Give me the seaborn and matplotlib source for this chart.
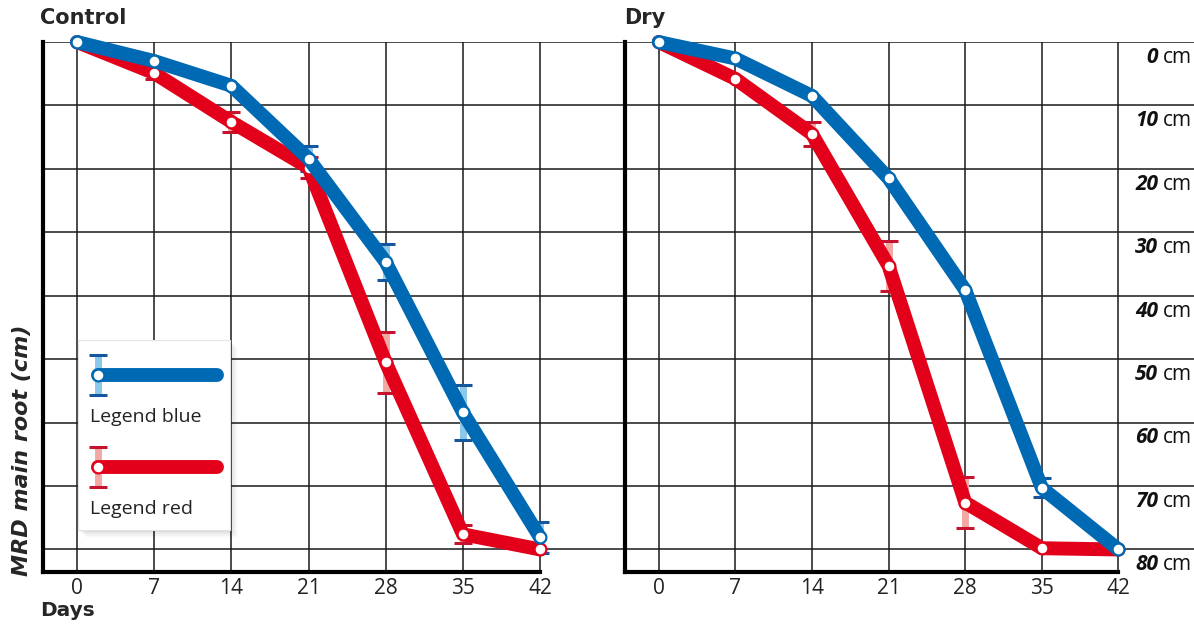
import numpy as np
import seaborn as sns
import matplotlib.pyplot as plt
import matplotlib.transforms as mtransforms
from matplotlib.patches import Rectangle

# Days after sowing and maximum rooting depth (cm)
days = [0, 7, 14, 21, 28, 35, 42]

control_blue = [0, 3.0, 6.9, 18.4, 34.7, 58.4, 78.1]
control_blue_err = [0, 0, 0, 2.0, 2.8, 4.3, 2.4]
control_red = [0, 4.9, 12.6, 19.8, 50.5, 77.6, 80.0]
control_red_err = [0, 1.0, 1.6, 1.7, 4.8, 1.4, 0]

dry_blue = [0, 2.6, 8.5, 21.5, 39.1, 70.3, 80.0]
dry_blue_err = [0, 0, 0, 0, 0, 1.5, 0]
dry_red = [0, 5.8, 14.5, 35.3, 72.6, 79.8, 80.0]
dry_red_err = [0, 0, 1.9, 3.9, 4.0, 0, 0]

depth_ticks = [0, 10, 20, 30, 40, 50, 60, 70, 80]

BLUE, BLUE_LIGHT, BLUE_DARK = "#0069b4", "#8cc8ea", "#14579e"
RED, RED_LIGHT, RED_DARK = "#e2001a", "#f2a9a4", "#c4122f"

sns.set_style("white")
plt.rcParams["font.family"] = ["Open Sans", "DejaVu Sans"]

fig = plt.figure(figsize=(11.94, 6.25), dpi=100)
W, H = 1194, 625
ax1 = fig.add_axes([43 / W, (H - 572) / H, (625 - 43) / W, 530 / H])
ax2 = fig.add_axes([625 / W, (H - 572) / H, (W - 625) / W, 530 / H])


def draw_panel(ax, xmax, series):
    ax.set_xlim(-3.08, xmax)
    ax.set_ylim(83.55, 0)
    ax.set_xticks(days)
    ax.set_yticks(depth_ticks)
    ax.set_yticklabels([])
    ax.grid(True, color="#1a1a1a", lw=1.1)
    ax.set_axisbelow(True)
    ax.tick_params(axis="both", length=0)
    ax.tick_params(axis="x", labelsize=15, pad=4, labelcolor="#222222")
    for side in ["top", "right"]:
        ax.spines[side].set_visible(False)
    for side in ["left", "bottom"]:
        ax.spines[side].set_color("black")
        ax.spines[side].set_linewidth(3)
        ax.spines[side].set_zorder(5)
    ax.spines["bottom"].set_bounds(-3.08, 42)

    for vals, errs, col, light, dark in series:
        vals = np.array(vals)
        errs = np.array(errs)
        x = np.array(days)
        m = errs > 0
        eb = ax.errorbar(x[m], vals[m], yerr=errs[m], fmt="none", ecolor=light,
                         elinewidth=5, capsize=6.5, capthick=2.2, zorder=3,
                         clip_on=False)
        for cap in eb[1]:
            cap.set_markeredgecolor(dark)
        sns.lineplot(x=days, y=vals, ax=ax, color=col, lw=10, marker="o",
                     markersize=8.5, markerfacecolor="white",
                     markeredgecolor=col, markeredgewidth=1.6,
                     solid_joinstyle="round", clip_on=False, zorder=4)
    ax.set_xlabel("")
    ax.set_ylabel("")


draw_panel(ax1, 49.7, [(control_red, control_red_err, RED, RED_LIGHT, RED_DARK),
                       (control_blue, control_blue_err, BLUE, BLUE_LIGHT, BLUE_DARK)])
draw_panel(ax2, 48.9, [(dry_red, dry_red_err, RED, RED_LIGHT, RED_DARK),
                       (dry_blue, dry_blue_err, BLUE, BLUE_LIGHT, BLUE_DARK)])

# Depth labels on the far right, e.g. "**0** cm"
trans = mtransforms.blended_transform_factory(fig.transFigure, ax2.transData)
for v in depth_ticks:
    t = ax2.annotate("cm", xy=(1192 / W, v), xycoords=trans, xytext=(0, -15),
                     textcoords="offset points", ha="right", va="baseline",
                     fontsize=15, color="#111111", annotation_clip=False)
    ax2.annotate(str(v), xy=(0, 0), xycoords=t, xytext=(-3.5, 0),
                 textcoords="offset points", ha="right", va="bottom",
                 fontsize=15, fontweight="bold", style="italic",
                 color="#111111", annotation_clip=False)

# Titles and axis labels
fig.text(40 / W, 1 - 18 / H, "Control", fontsize=15, fontweight="bold",
         family="DejaVu Sans", va="center", ha="left")
fig.text(624 / W, 1 - 18 / H, "Dry", fontsize=15, fontweight="bold",
         family="DejaVu Sans", va="center", ha="left")
fig.text(40 / W, 1 - 610 / H, "Days", fontsize=14.5, fontweight="bold",
         family="DejaVu Sans", va="center", ha="left")
fig.text(22 / W, 1 - 450 / H, "MRD main root (cm)", fontsize=16,
         fontweight="bold", style="italic", family="DejaVu Sans",
         rotation=90, va="center", ha="center")

# Custom legend box with soft shadow
lx, ly, lw_, lh = 78, 340, 152, 190
for i, a in enumerate([0.05, 0.04, 0.03, 0.02]):
    d = 2 + i * 2
    fig.patches.append(Rectangle(((lx + d) / W, 1 - (ly + lh + d) / H), lw_ / W, lh / H,
                                 transform=fig.transFigure, facecolor="black",
                                 edgecolor="none", alpha=a, zorder=6))
leg = fig.add_axes([lx / W, 1 - (ly + lh) / H, lw_ / W, lh / H], zorder=7)
leg.set_xlim(0, lw_)
leg.set_ylim(lh, 0)
leg.set_facecolor("white")
leg.set_xticks([])
leg.set_yticks([])
for s in leg.spines.values():
    s.set_color("#e4e4e4")
    s.set_linewidth(0.8)
for yc, col, light, dark, label in [(35, BLUE, BLUE_LIGHT, BLUE_DARK, "Legend blue"),
                                    (127, RED, RED_LIGHT, RED_DARK, "Legend red")]:
    eb = leg.errorbar([20], [yc], yerr=[20], fmt="none", ecolor=light,
                      elinewidth=5, capsize=6.5, capthick=2.2)
    for cap in eb[1]:
        cap.set_markeredgecolor(dark)
    leg.plot([20, 139], [yc, yc], color=col, lw=10, solid_capstyle="round")
    leg.plot([20], [yc], marker="o", markersize=8.5, markerfacecolor="white",
             markeredgecolor=col, markeredgewidth=1.6)
    leg.text(12, yc + 47, label, fontsize=14, color="#222222", va="baseline")

fig.savefig("out.png", dpi=100)
